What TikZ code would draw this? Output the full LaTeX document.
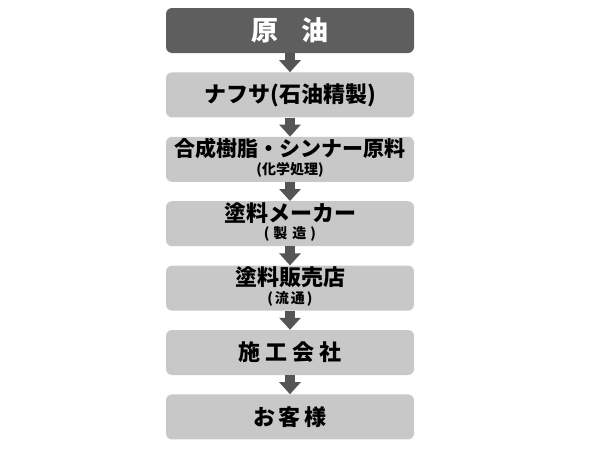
\documentclass[tikz,border=0pt]{standalone}
\usepackage{fontspec}
\newfontfamily\cjk{Noto Sans CJK JP}
\usepackage{tikz}
\usetikzlibrary{positioning,arrows.meta}
\definecolor{darkbox}{HTML}{5E5E5E}
\definecolor{lightbox}{HTML}{C8C8C8}
\definecolor{arrowgray}{HTML}{555555}
\newcommand{\maintext}[1]{{\fontsize{22}{24}\selectfont #1}}
\newcommand{\subtext}[1]{{\fontsize{14}{15}\selectfont #1}}
\tikzset{basic/.style={rounded corners=6pt,minimum width=248pt,minimum height=45pt,inner sep=0pt,align=center,font=\cjk\bfseries}}
\tikzset{top/.style={basic,fill=darkbox,text=white}}
\tikzset{stage/.style={basic,fill=lightbox,text=black}}
\tikzset{twoline/.style={stage,text depth=6pt}}
\tikzstyle{arrow}=[draw=arrowgray, line width=10pt, -{Triangle[width=21pt,length=12pt]}]

\begin{document}
\begin{tikzpicture}
    \useasboundingbox (0,0) rectangle (600pt,-450pt);
        \node[top] (crude) at (290pt,-30.5pt) {\fontsize{27}{30}\selectfont 原\hspace{24pt}油};
        \node[stage,below=19pt of crude] (naphtha) {\maintext{ナフサ(石油精製)}};
        \node[twoline,below=19pt of naphtha] (resin) {{\fontsize{21}{23}\selectfont 合成樹脂・シンナー原料}\\[2pt]\subtext{(化学処理)}};
        \node[twoline,below=19pt of resin] (maker) {\maintext{塗料メーカー}\\[2pt]\subtext{(\hspace{4pt}製\hspace{5pt}造\hspace{4pt})}};
        \node[twoline,below=19pt of maker] (shop) {\maintext{塗料販売店}\\[2pt]\subtext{(\hspace{2pt}流\hspace{2pt}通\hspace{2pt})}};
        \node[stage,below=19pt of shop] (builder) {\maintext{施\hspace{5pt}工\hspace{5pt}会\hspace{5pt}社}};
        \node[stage,below=19pt of builder] (customer) {\maintext{お\hspace{4pt}客\hspace{4pt}様}};
            \path[arrow] (crude) -- (naphtha);
            \path[arrow] (naphtha) -- (resin);
            \path[arrow] (resin) -- (maker);
            \path[arrow] (maker) -- (shop);
            \path[arrow] (shop) -- (builder);
            \path[arrow] (builder) -- (customer);
    \end{tikzpicture}
\end{document}
